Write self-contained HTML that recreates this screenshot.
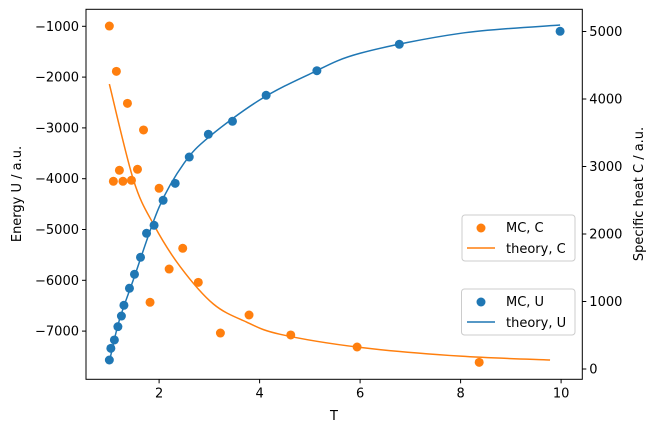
<!DOCTYPE html>
<html><head><meta charset="utf-8"><style>
body{margin:0;background:#fff;position:relative;width:657px;height:432px;overflow:hidden;font-family:"DejaVu Sans","Liberation Sans",sans-serif;}
svg{display:block;font-family:"DejaVu Sans","Liberation Sans",sans-serif;}
</style></head><body>
<svg id="chart" width="657" height="432" viewBox="0 0 657 432" xmlns="http://www.w3.org/2000/svg">
<rect x="0" y="0" width="657" height="432" fill="#fff"/>
<g id="plot"></g>
<g id="axes"></g>
</svg>
<script>
const mcUT = [1.01,1.04,1.11,1.18,1.25,1.30,1.41,1.51,1.63,1.75,1.90,2.08,2.32,2.60,2.98,3.46,4.13,5.14,6.78,9.98];
const mcU = [-7569,-7339,-7175,-6913,-6703,-6492,-6157,-5882,-5547,-5075,-4917,-4425,-4091,-3573,-3126,-2870,-2358,-1874,-1354,-1098];
const mcCT = [1.01,1.09,1.15,1.21,1.28,1.37,1.45,1.57,1.69,1.82,2.00,2.20,2.47,2.78,3.22,3.79,4.62,5.94,8.37];
const mcC = [5081,2781,4410,2944,2781,3936,2796,2959,3541,988,2677,1481,1788,1284,533,800,504,326,99];
const thUT = [1.0,1.2,1.5,2.0,2.5,3.0,4.0,5.0,6.0,8.0,9.98];
const thU = [-7650,-6815,-5955,-4560,-3690,-3173,-2451,-1939,-1531,-1138,-975];
const thCT = [1.01,1.49,1.90,2.42,3.08,3.74,4.41,6.0,8.0,9.78];
const thC = [4222,2800,2129,1516,963,696,514,320,190,133];
const xTicks = [2,4,6,8,10];
const yLTicks = [-1000,-2000,-3000,-4000,-5000,-6000,-7000];
const yRTicks = [0,1000,2000,3000,4000,5000];

const L=86,R=582.3,T=9.3,B=379.3;
const sx = t => 58.6 + t*50.25;
const syL = u => 26.3 + (-1000 - u)/1000*50.8;
const syR = c => 369 - c/1000*67.5;
const NS="http://www.w3.org/2000/svg";
const plot=document.getElementById('plot'), axes=document.getElementById('axes');
function mk(tag, attrs, parent){const e=document.createElementNS(NS,tag);for(const k in attrs)e.setAttribute(k,attrs[k]);parent.appendChild(e);return e;}
function smooth(xs,ys){
  const p=xs.map((x,i)=>[x,ys[i]]);let d=`M${p[0][0]},${p[0][1]}`;
  for(let i=0;i<p.length-1;i++){const p0=p[i-1]||p[i],p1=p[i],p2=p[i+1],p3=p[i+2]||p2;
    d+=` C${p1[0]+(p2[0]-p0[0])/6},${p1[1]+(p2[1]-p0[1])/6} ${p2[0]-(p3[0]-p1[0])/6},${p2[1]-(p3[1]-p1[1])/6} ${p2[0]},${p2[1]}`;}
  return d;}
const blue="#1f77b4",orange="#ff7f0e";
let e=mk('path',{d:smooth(thCT.map(sx),thC.map(syR)),fill:'none',stroke:orange,'stroke-width':1.5},plot);


mcCT.forEach((t,i)=>{const c=mk('circle',{cx:sx(t),cy:syR(mcC[i]),r:4.5,fill:orange},plot);

});
e=mk('path',{d:smooth(thUT.map(sx),thU.map(syL)),fill:'none',stroke:blue,'stroke-width':1.5},plot);


mcUT.forEach((t,i)=>{const c=mk('circle',{cx:sx(t),cy:syL(mcU[i]),r:4.5,fill:blue},plot);

});
e=mk('rect',{x:L,y:T,width:R-L,height:B-T,fill:'none',stroke:'#000','stroke-width':1},axes);


xTicks.forEach(v=>{const x=sx(v);mk('line',{x1:x,x2:x,y1:B,y2:B+4,stroke:'#000'},axes);
const t=mk('text',{x:x,y:B+18,'text-anchor':'middle','font-size':13,fill:'#000'},axes);t.textContent=v;

});
yLTicks.forEach(v=>{const y=syL(v);mk('line',{x1:L-4,x2:L,y1:y,y2:y,stroke:'#000'},axes);
const t=mk('text',{x:L-7,y:y+4.5,'text-anchor':'end','font-size':13,fill:'#000'},axes);t.textContent='\u2212'+Math.abs(v);

});
yRTicks.forEach(v=>{const y=syR(v);mk('line',{x1:R,x2:R+4,y1:y,y2:y,stroke:'#000'},axes);
const t=mk('text',{x:R+7,y:y+4.5,'text-anchor':'start','font-size':13,fill:'#000'},axes);t.textContent=v;

});
</script>
<svg style="position:absolute;left:0;top:0" width="657" height="432">
<text x="334" y="420" text-anchor="middle" font-size="13">T</text>
<text transform="translate(21,194) rotate(-90)" text-anchor="middle" font-size="13">Energy U / a.u.</text>
<text transform="translate(643,194) rotate(-90)" text-anchor="middle" font-size="13">Specific heat C / a.u.</text>
<g>
<rect x="462" y="215" width="113" height="46" rx="3" fill="#fff" fill-opacity="0.8" stroke="#ccc"/>
<circle cx="481" cy="228" r="4.5" fill="#ff7f0e"/>
<line x1="467" x2="495" y1="248" y2="248" stroke="#ff7f0e" stroke-width="1.5"/>
<text x="506" y="232" font-size="13">MC, C</text>
<text x="506" y="253" font-size="13">theory, C</text>
</g>
<g>
<rect x="461.5" y="289" width="113.5" height="46" rx="3" fill="#fff" fill-opacity="0.8" stroke="#ccc"/>
<circle cx="481" cy="302" r="4.5" fill="#1f77b4"/>
<line x1="467" x2="495" y1="322" y2="322" stroke="#1f77b4" stroke-width="1.5"/>
<text x="506" y="306" font-size="13">MC, U</text>
<text x="506" y="327" font-size="13">theory, U</text>
</g>
</svg>
</body></html>
